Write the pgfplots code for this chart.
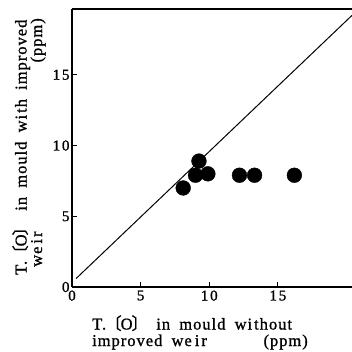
\documentclass[border=0pt]{standalone}
\usepackage{fontspec}
\setmainfont{Liberation Serif}
\newfontfamily\cjk[FakeBold=1]{Noto Sans CJK JP}
\newfontfamily\lab[LetterSpace=6,WordSpace=1.8,FakeBold=1]{Liberation Serif}
\newfontfamily\tkf[LetterSpace=12,FakeBold=1.2]{Liberation Serif}
\usepackage{pgfplots}
\pgfplotsset{compat=1.18}
\newcommand{\lb}{{\cjk\fontsize{16.5}{16.5}\selectfont\kern-1pt 〔\kern-1pt}}
\newcommand{\rb}{{\cjk\fontsize{16.5}{16.5}\selectfont\kern-1pt 〕\kern-1pt}}
\begin{document}
\begin{tikzpicture}[x=1pt,y=1pt]
\path[use as bounding box] (0,0) rectangle (352,351);
\begin{axis}[
  at={(72pt,64pt)}, anchor=south west,
  width=280pt, height=278pt, scale only axis,
  xmin=0, xmax=20.4, ymin=0, ymax=19.65,
  axis x line*=bottom, axis y line*=left,
  axis line style={line width=1.3pt},
  xtick={0,5,10,15}, ytick={0,5,10,15},
  tick align=inside, major tick length=5pt,
  tick style={line width=1pt, black},
  ticklabel style={font=\tkf\fontsize{15}{15}\selectfont},
  /pgf/number format/assume math mode=true,
  xticklabel style={yshift=0pt},
  yticklabel style={xshift=1pt},
  clip=false,
]
\draw[line width=1.3pt] (rel axis cs:0,1) -- (rel axis cs:1,1);
\addplot[line width=1pt, black] coordinates {(0.3,0.6) (20.4,19.2)};
\addplot[only marks, mark=*, mark size=7.4pt, black] coordinates {
(8.1,7.0) (9.0,7.9) (9.25,8.9) (9.9,8.0) (12.2,7.9) (13.3,7.9) (16.2,7.9)};
\end{axis}
\node[anchor=base west, inner sep=0] at (92,21.5) {\lab\fontsize{16.5}{16.5}\selectfont T.\lb O\rb{} in mould wi\kern2pt thout};
\node[anchor=base west, inner sep=0] at (92,5) {\lab\fontsize{16.5}{16.5}\selectfont improved we\kern3pt i\kern2pt r};
\node[anchor=base east, inner sep=0] at (308,5) {\lab\fontsize{16.5}{16.5}\selectfont (ppm)};
\node[anchor=base west, inner sep=0, rotate=90] at (26.5,76) {\lab\fontsize{16.5}{16.5}\selectfont T.\lb O\rb{} in mould wi\kern2pt th improved};
\node[anchor=base west, inner sep=0, rotate=90] at (42,84) {\lab\fontsize{16.5}{16.5}\selectfont we\kern3pt i\kern2pt r};
\node[anchor=base east, inner sep=0, rotate=90] at (42,333) {\lab\fontsize{16.5}{16.5}\selectfont (ppm)};
\end{tikzpicture}
\end{document}
